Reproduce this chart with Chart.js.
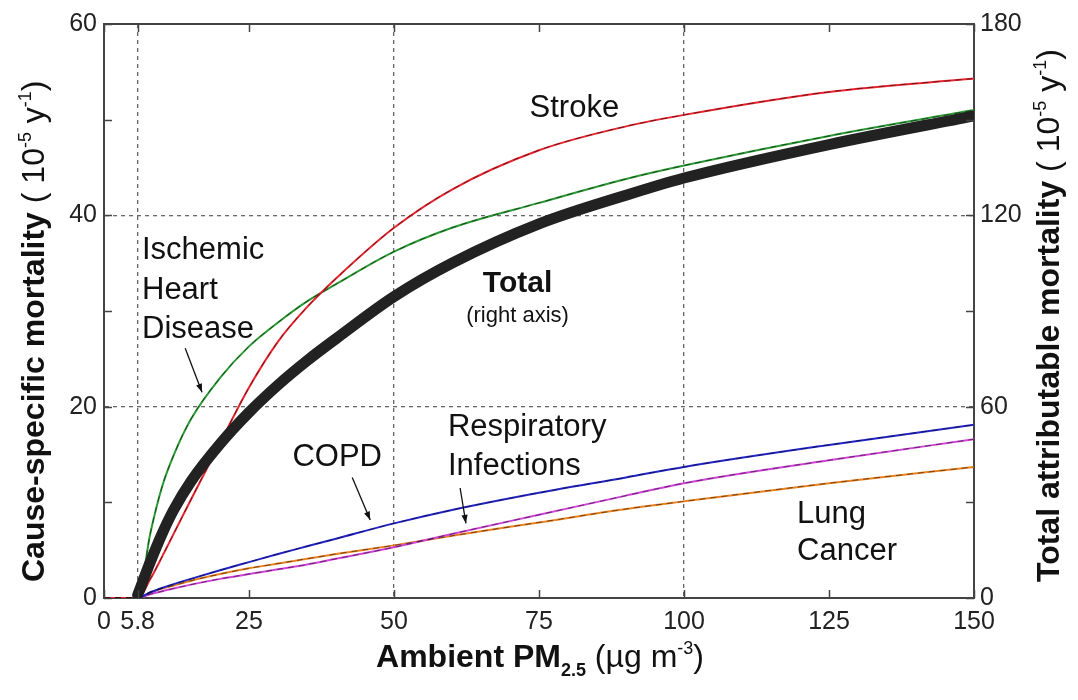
<!DOCTYPE html>
<html>
<head>
<meta charset="utf-8">
<script src="https://cdn.jsdelivr.net/npm/chart.js@4.4.0/dist/chart.umd.min.js"></script>
<style>
  html, body { margin: 0; padding: 0; background: #fff; }
</style>
</head>
<body>
<canvas id="chart" width="1078" height="700"></canvas>
<script>
// PM2.5 concentration (x) shared by every curve
const pm = [0, 5.8, 8, 10, 12, 15, 20, 25, 30, 35, 40, 50, 60, 75, 90, 100, 125, 150];

// cause-specific mortality, left axis (10^-5 per year)
const stroke = [0, 0, 2.0, 4.3, 6.7, 10.3, 16.2, 22.0, 26.8, 30.4, 33.4, 38.7, 42.7, 46.8, 49.3, 50.5, 52.9, 54.3];
const ihd = [0, 0, 6.8, 11.6, 14.9, 18.7, 23.0, 26.3, 28.8, 31.0, 32.8, 36.2, 38.7, 41.3, 43.8, 45.2, 48.3, 51.0];
const copd = [0, 0, 0.6, 1.05, 1.45, 2.0, 2.9, 3.75, 4.6, 5.4, 6.2, 7.8, 9.2, 11.0, 12.6, 13.7, 16.0, 18.1];
const respInf = [0, 0, 0.4, 0.7, 1.0, 1.4, 2.0, 2.5, 3.0, 3.5, 4.1, 5.3, 6.7, 8.7, 10.7, 12.0, 14.4, 16.6];
const lungCancer = [0, 0, 0.6, 1.0, 1.3, 1.8, 2.5, 3.1, 3.6, 4.1, 4.6, 5.5, 6.5, 7.9, 9.3, 10.1, 12.0, 13.7];

// total attributable mortality, right axis
const total = [null, 0.9, 11.4, 20.1, 27.6, 36.6, 48.3, 58.2, 66.8, 74.4, 81.3, 94.5, 105, 117.3, 126.3, 131.7, 142.2, 151.2];

// axis ticks
const xTicks = [0, 5.8, 25, 50, 75, 100, 125, 150];
const xGrid = [5.8, 50, 100];
const yGrid = [20, 40];
const yMinor = [0, 10, 20, 30, 40, 50, 60];

const FONT = '"Liberation Sans", Arial, Helvetica, sans-serif';

function pts(ys) {
    return pm.map((x, i) => ({ x: x, y: ys[i] }));
}

function curve(ys, color, width, axis, order) {
    return {
        data: pts(ys),
        borderColor: color,
        borderWidth: width,
        pointRadius: 0,
        fill: false,
        cubicInterpolationMode: 'monotone',
        yAxisID: axis,
        order: order
    };
}

function dashes(ys) {
    let d = curve(ys, 'rgba(0,0,0,0.5)', 1, 'y', 1);
    d.borderDash = [6, 5];
    return d;
}

var totalLine = curve(total, '#222222', 11, 'y2', 0);
totalLine.borderCapStyle = 'round';

var datasets = [
    totalLine,
    curve(stroke, '#e8242e', 2, 'y', 2),
    curve(ihd, '#2c9a34', 2, 'y', 2),
    curve(copd, '#2424c8', 2, 'y', 2),
    curve(respInf, '#d044d8', 2, 'y', 2),
    curve(lungCancer, '#ea8220', 2, 'y', 2),
    dashes(stroke), dashes(ihd), dashes(copd), dashes(respInf), dashes(lungCancer)
];

// text labels placed in data units of the left axis
const labels = [
    { text: 'Stroke', x: 81.1, y: 51.2, align: 'center', bold: false, size: 31 },
    { text: 'Ischemic', x: 6.55, y: 36.3, align: 'left', bold: false, size: 31 },
    { text: 'Heart', x: 6.55, y: 32.2, align: 'left', bold: false, size: 31 },
    { text: 'Disease', x: 6.55, y: 28.1, align: 'left', bold: false, size: 31 },
    { text: 'Total', x: 71.3, y: 32.8, align: 'center', bold: true, size: 30 },
    { text: '(right axis)', x: 71.3, y: 29.5, align: 'center', bold: false, size: 22 },
    { text: 'COPD', x: 40.2, y: 14.7, align: 'center', bold: false, size: 31 },
    { text: 'Respiratory', x: 59.3, y: 17.8, align: 'left', bold: false, size: 31 },
    { text: 'Infections', x: 59.3, y: 13.7, align: 'left', bold: false, size: 31 },
    { text: 'Lung', x: 119.5, y: 8.7, align: 'left', bold: false, size: 31 },
    { text: 'Cancer', x: 119.5, y: 4.9, align: 'left', bold: false, size: 31 }
];
const arrows = [
    [14.0, 26.1, 16.9, 21.5],
    [42.8, 12.6, 45.9, 8.15],
    [61.4, 11.5, 62.4, 7.8]
];

// inward tick marks and the top frame line
const frame = {
    id: 'frame',
    afterDraw(chart) {
        const ctx = chart.ctx;
        const a = chart.chartArea;
        const sx = chart.scales.x, sy = chart.scales.y;
        ctx.save();
        ctx.strokeStyle = '#444';
        ctx.lineWidth = 2;
        ctx.beginPath();
        ctx.moveTo(a.left, a.top);
        ctx.lineTo(a.right, a.top);
        ctx.stroke();
        ctx.lineWidth = 1.5;
        ctx.beginPath();
        xTicks.forEach(v => {
            const px = Math.round(sx.getPixelForValue(v)) + 0.5;
            ctx.moveTo(px, a.bottom); ctx.lineTo(px, a.bottom - 8);
            ctx.moveTo(px, a.top); ctx.lineTo(px, a.top + 8);
        });
        yMinor.forEach(v => {
            const py = Math.round(sy.getPixelForValue(v)) + 0.5;
            ctx.moveTo(a.left, py); ctx.lineTo(a.left + 8, py);
            ctx.moveTo(a.right, py); ctx.lineTo(a.right - 8, py);
        });
        ctx.stroke();
        ctx.restore();
    }
};

const notes = {
    id: 'notes',
    afterDraw(chart) {
        const ctx = chart.ctx;
        const sx = chart.scales.x, sy = chart.scales.y;
        ctx.save();
        ctx.fillStyle = '#111';
        ctx.textBaseline = 'middle';
        labels.forEach(l => {
            ctx.font = (l.bold ? 'bold ' : '') + l.size + 'px ' + FONT;
            ctx.textAlign = l.align;
            ctx.fillText(l.text, sx.getPixelForValue(l.x), sy.getPixelForValue(l.y));
        });
        ctx.strokeStyle = '#111';
        ctx.lineWidth = 1.3;
        arrows.forEach(ar => {
            const x1 = sx.getPixelForValue(ar[0]), y1 = sy.getPixelForValue(ar[1]);
            const x2 = sx.getPixelForValue(ar[2]), y2 = sy.getPixelForValue(ar[3]);
            const ang = Math.atan2(y2 - y1, x2 - x1);
            ctx.beginPath();
            ctx.moveTo(x1, y1);
            ctx.lineTo(x2, y2);
            ctx.stroke();
            ctx.beginPath();
            ctx.moveTo(x2, y2);
            ctx.lineTo(x2 - 9 * Math.cos(ang - 0.35), y2 - 9 * Math.sin(ang - 0.35));
            ctx.lineTo(x2 - 9 * Math.cos(ang + 0.35), y2 - 9 * Math.sin(ang + 0.35));
            ctx.closePath();
            ctx.fill();
        });
        ctx.restore();
    }
};

// draws a run of [text, style] parts; style: b = bold, n = normal, sup, sub
function drawParts(ctx, parts, x, y) {
    parts.forEach(p => {
        let font = '32px ' + FONT, dy = 0;
        if (p[1] === 'b') font = 'bold 32px ' + FONT;
        if (p[1] === 'sup') { font = '18px ' + FONT; dy = -13; }
        if (p[1] === 'sub') { font = 'bold 18px ' + FONT; dy = 9; }
        ctx.font = font;
        ctx.fillText(p[0], x, y + dy);
        x += ctx.measureText(p[0]).width;
    });
    return x;
}

function partsWidth(ctx, parts) {
    ctx.save();
    const w = drawParts({ set font(f) { ctx.font = f; }, fillText() {}, measureText: t => ctx.measureText(t) }, parts, 0, 0);
    ctx.restore();
    return w;
}

const titles = {
    id: 'titles',
    afterDraw(chart) {
        const ctx = chart.ctx;
        ctx.save();
        ctx.fillStyle = '#111';
        ctx.textAlign = 'left';
        ctx.textBaseline = 'alphabetic';
        const xParts = [['Ambient PM', 'b'], ['2.5', 'sub'], [' (\u00b5g m', 'n'], ['-3', 'sup'], [')', 'n']];
        const w = partsWidth(ctx, xParts);
        drawParts(ctx, xParts, 540 - w / 2, 667);

        const unit = [[' ( 10', 'n'], ['-5', 'sup'], [' y', 'n'], ['-1', 'sup'], [')', 'n']];
        ctx.save();
        ctx.translate(44, 582);
        ctx.rotate(-Math.PI / 2);
        drawParts(ctx, [['Cause-specific mortality', 'b']].concat(unit), 0, 0);
        ctx.restore();

        ctx.save();
        ctx.translate(1059, 582);
        ctx.rotate(-Math.PI / 2);
        drawParts(ctx, [['Total attributable mortality', 'b']].concat(unit), 0, 0);
        ctx.restore();
        ctx.restore();
    }
};

const tickFont = { family: FONT, size: 25 };

new Chart(document.getElementById('chart').getContext('2d'), {
    type: 'line',
    data: { datasets: datasets },
    options: {
        responsive: false,
        animation: false,
        layout: { padding: { top: 24, left: 0, right: 0, bottom: 0 } },
        plugins: { legend: { display: false }, tooltip: { enabled: false } },
        scales: {
            x: {
                type: 'linear', min: 0, max: 150,
                afterBuildTicks: s => { s.ticks = xTicks.map(v => ({ value: v })); },
                afterFit: s => { s.height = 102; },
                ticks: { font: tickFont, color: '#222', padding: 9, autoSkip: false, maxRotation: 0,
                    callback: v => String(v) },
                grid: { drawTicks: false, lineWidth: 1.3,
                    color: c => (c.tick && xGrid.includes(c.tick.value)) ? '#666' : 'rgba(0,0,0,0)' },
                border: { color: '#444', width: 2, dash: [4, 4] }
            },
            y: {
                position: 'left', min: 0, max: 60,
                afterFit: s => { s.width = 104; },
                ticks: { stepSize: 20, font: tickFont, color: '#222', padding: 7 },
                grid: { drawTicks: false, lineWidth: 1.3,
                    color: c => (c.tick && yGrid.includes(c.tick.value)) ? '#666' : 'rgba(0,0,0,0)' },
                border: { color: '#444', width: 2, dash: [4, 4] }
            },
            y2: {
                position: 'right', min: 0, max: 180,
                afterFit: s => { s.width = 104; },
                ticks: { stepSize: 60, font: tickFont, color: '#222', padding: 6 },
                grid: { drawTicks: false, drawOnChartArea: false },
                border: { color: '#444', width: 2 }
            }
        }
    },
    plugins: [frame, notes, titles]
});
</script>
</body>
</html>
